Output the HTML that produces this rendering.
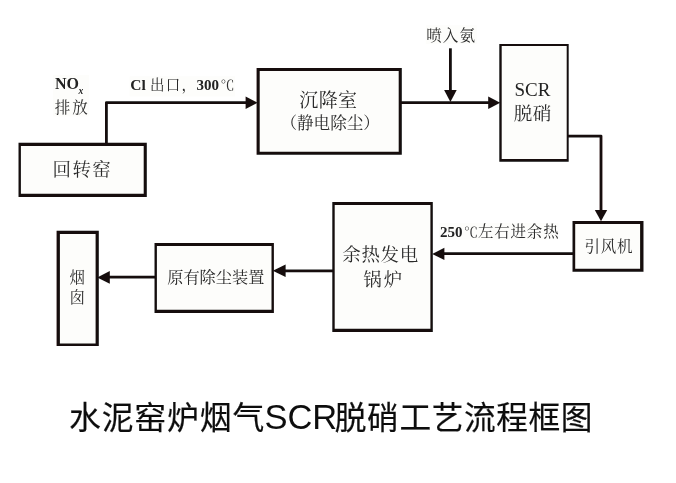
<!DOCTYPE html>
<html><head><meta charset="utf-8"><title>SCR</title>
<style>html,body{margin:0;padding:0;background:#fff;}body{width:676px;height:483px;overflow:hidden;font-family:"Liberation Sans",sans-serif;}svg{display:block;}</style>
</head><body>
<svg width="676" height="483" viewBox="0 0 676 483">
<defs>
<filter id="bl" x="0" y="0" width="676" height="483" filterUnits="userSpaceOnUse"><feGaussianBlur stdDeviation="0.4"/></filter>
</defs>
<rect width="676" height="483" fill="#fff"/>
<g filter="url(#bl)">
<rect x="19.70" y="144.40" width="125.55" height="50.95" fill="#fdfdfb"/>
<path fill-rule="evenodd" fill="#15110e" d="M18.50 142.80H146.80V196.90H18.50ZM20.90 146.00H143.70V193.80H20.90Z"/>
<rect x="258.15" y="69.45" width="142.10" height="83.80" fill="#fdfdfb"/>
<path fill-rule="evenodd" fill="#15110e" d="M256.60 67.90H401.80V154.70H256.60ZM259.70 71.00H398.70V151.80H259.70Z"/>
<rect x="500.50" y="44.90" width="67.20" height="115.45" fill="#fdfdfb"/>
<path fill-rule="evenodd" fill="#15110e" d="M499.30 43.90H568.70V161.70H499.30ZM501.70 45.90H566.70V159.00H501.70Z"/>
<rect x="573.85" y="222.45" width="67.95" height="47.80" fill="#fdfdfb"/>
<path fill-rule="evenodd" fill="#15110e" d="M572.50 220.90H643.50V271.80H572.50ZM575.20 224.00H640.10V268.70H575.20Z"/>
<rect x="333.50" y="203.45" width="98.10" height="126.90" fill="#fdfdfb"/>
<path fill-rule="evenodd" fill="#15110e" d="M332.30 202.00H432.80V331.90H332.30ZM334.70 204.90H430.40V328.80H334.70Z"/>
<rect x="155.70" y="244.45" width="117.00" height="66.90" fill="#fdfdfb"/>
<path fill-rule="evenodd" fill="#15110e" d="M154.50 242.90H273.90V312.90H154.50ZM156.90 246.00H271.50V309.80H156.90Z"/>
<rect x="58.25" y="232.40" width="38.95" height="112.30" fill="#fdfdfb"/>
<path fill-rule="evenodd" fill="#15110e" d="M56.60 230.80H98.80V345.90H56.60ZM59.90 234.00H95.60V343.50H59.90Z"/>
<rect x="129.6" y="76.3" width="105.4" height="20.1" fill="#fdfdfb"/>
<rect x="439" y="223" width="119.5" height="16.6" fill="#fdfdfb"/>
<rect x="425.8" y="25.3" width="50.9" height="18.7" fill="#fdfdfb"/>
<rect x="53" y="75" width="36" height="41.5" fill="#fdfdfb"/>
<polyline points="106.4,143 106.4,102.6 246,102.6" fill="none" stroke="#15110e" stroke-width="2.8" stroke-linejoin="round"/>
<polygon points="257.6,102.7 245.6,96.4 245.6,109" fill="#15110e"/>
<polyline points="401,102.6 489,102.6" fill="none" stroke="#15110e" stroke-width="2.8" stroke-linejoin="round"/>
<polygon points="500.2,102.7 488.2,96.4 488.2,109" fill="#15110e"/>
<polyline points="450.4,48.3 450.4,91.5" fill="none" stroke="#15110e" stroke-width="2.8" stroke-linejoin="round"/>
<polygon points="450.4,102 444.1,90.1 456.7,90.1" fill="#15110e"/>
<polyline points="568,136.1 601,136.1 601,211" fill="none" stroke="#15110e" stroke-width="2.8" stroke-linejoin="round"/>
<polygon points="601,221.3 594.8,210 607.2,210" fill="#15110e"/>
<polyline points="573,253.7 444,253.7" fill="none" stroke="#15110e" stroke-width="2.8" stroke-linejoin="round"/>
<polygon points="432.2,253.9 444.4,247.7 444.4,260.1" fill="#15110e"/>
<polyline points="333,270.8 285,270.8" fill="none" stroke="#15110e" stroke-width="2.8" stroke-linejoin="round"/>
<polygon points="272.8,270.8 285.6,264.5 285.6,277.1" fill="#15110e"/>
<polyline points="155,277.2 109,277.2" fill="none" stroke="#15110e" stroke-width="2.8" stroke-linejoin="round"/>
<polygon points="97.2,277.4 109.8,271.1 109.8,283.7" fill="#15110e"/>
<g font-family="'Liberation Serif', 'Noto Serif CJK SC', serif" fill="#2a2a2a">
<text x="52.5" y="176.1" font-size="18.5" letter-spacing="1.4">回转窑</text>
<text x="299.35" y="107.36" font-size="19" letter-spacing="0.35">沉降室</text>
<text x="280.4" y="129.1" font-size="16.6">（静电除尘）</text>
<text x="426.27" y="40.72" font-size="15.6" letter-spacing="1">喷入氨</text>
<text x="514.54" y="95.7" font-size="19" fill="#222">SCR</text>
<text x="513.63" y="120.4" font-size="18.5" letter-spacing="0.7">脱硝</text>
<text x="584.6" y="252.04" font-size="15.5" letter-spacing="0.68">引风机</text>
<text x="342.33" y="261.49" font-size="18.5" letter-spacing="0.6">余热发电</text>
<text x="363.21" y="286.38" font-size="18.5" letter-spacing="1.95">锅炉</text>
<text x="167.23" y="283.26" font-size="16.2">原有除尘装置</text>
<text x="69.46" y="283" font-size="15.5">烟</text>
<text x="69.39" y="303.48" font-size="15.5">囱</text>
<text x="55" y="88.9" font-size="16" font-weight="bold" fill="#222">NO<tspan x="78.6" y="93.6" font-size="9.5" font-style="italic">x</tspan></text>
<text x="54.65" y="112.88" font-size="15.5" letter-spacing="2">排放</text>
<text x="130.2" y="89.7" font-size="15.5" font-weight="bold" fill="#222">Cl</text>
<text x="149.92" y="89.55" font-size="14.5" letter-spacing="1.3">出口，</text>
<text x="196.5" y="89.7" font-size="15" font-weight="bold" fill="#222">300</text>
<text x="220.6" y="89.8" font-size="14" fill="#333">℃</text>
<text x="440" y="236.7" font-size="15" font-weight="bold" fill="#222">250</text>
<text x="464" y="236.8" font-size="14" fill="#333">℃</text>
<text x="477.96" y="237.13" font-size="15.5" letter-spacing="0.8">左右进余热</text>
</g>
<g font-family="'Liberation Sans', 'Noto Sans CJK SC', sans-serif" fill="#111">
<text x="68.96" y="429.38" font-size="31.8" letter-spacing="0.9" stroke="#111" stroke-width="0.2">水泥窑炉烟气</text>
<text x="264.4" y="428.8" font-size="34.5">SCR</text>
<text x="334.82" y="429.38" font-size="31.7" letter-spacing="0.6" stroke="#111" stroke-width="0.2">脱硝工艺流程框图</text>
</g>
</g>
</svg>
</body></html>
